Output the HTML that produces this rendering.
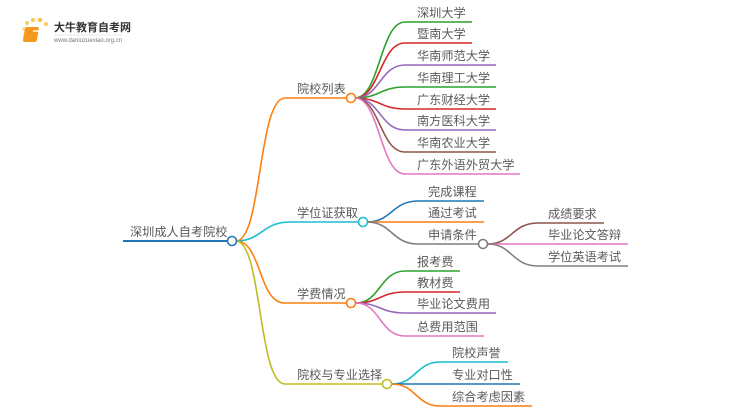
<!DOCTYPE html>
<html><head><meta charset="utf-8"><style>
html,body{margin:0;padding:0;background:#fff;width:750px;height:410px;overflow:hidden}
svg text{font-family:"Liberation Sans","Noto Sans CJK SC",sans-serif;fill:#5a5a5a;font-size:12.2px}
</style></head><body>
<svg width="750" height="410" viewBox="0 0 750 410" xmlns="http://www.w3.org/2000/svg">
<g>
<circle cx="25" cy="36" r="1.6" fill="#fbd38a"/><circle cx="24" cy="29" r="1.8" fill="#fbd38a"/>
<circle cx="27" cy="23" r="2" fill="#fcc860"/><circle cx="33" cy="20" r="2.2" fill="#fcc860"/>
<circle cx="40" cy="20" r="2.2" fill="#fbbf45"/><circle cx="46" cy="24" r="2" fill="#fcc860"/>
<rect x="30" y="27" width="14" height="15" rx="2" fill="#f39a1e" transform="skewX(-10)"/>
<rect x="33" y="30" width="9" height="2" fill="#fff" opacity=".7"/>
<text x="54" y="31" style="font-size:11px;fill:#333;font-weight:bold">大牛教育自考网</text>
<text x="54" y="42" style="font-size:6px;fill:#777">www.daniuzuexiao.org.cn</text>
<line x1="54" y1="35" x2="122" y2="35" stroke="#ccc" stroke-width=".6"/>
</g>
<g fill="none" stroke-width="1.6">
<path d="M123 241 L228 241" stroke="#1f77b4" stroke-width="2"/>
<path d="M236 241 C262 241 258 98 285 98 L346 98" stroke="#ff7f0e"/>
<path d="M236 241 C262 241 262 222 290 222 L358 222" stroke="#17becf"/>
<path d="M236 241 C262 241 258 303 285 303 L347 303" stroke="#ff7f0e"/>
<path d="M236 241 C262 241 258 384 285 384 L383 384" stroke="#bcbd22"/>
<path d="M355 98 C380 98 380 22 405 22 L472 22" stroke="#2ca02c"/>
<path d="M355 98 C380 98 380 43 405 43 L472 43" stroke="#d62728"/>
<path d="M355 98 C380 98 380 65 405 65 L496 65" stroke="#9467bd"/>
<path d="M355 98 C380 98 380 87 405 87 L496 87" stroke="#2ca02c"/>
<path d="M355 98 C380 98 380 109 405 109 L496 109" stroke="#d62728"/>
<path d="M355 98 C380 98 380 130 405 130 L496 130" stroke="#9467bd"/>
<path d="M355 98 C380 98 380 152 405 152 L496 152" stroke="#8c564b"/>
<path d="M355 98 C380 98 380 174 405 174 L520 174" stroke="#e377c2"/>
<path d="M367 222 C392 222 392 201 418 201 L484 201" stroke="#1f77b4"/>
<path d="M367 222 L484 222" stroke="#ff7f0e"/>
<path d="M367 222 C392 222 392 244 418 244 L479 244" stroke="#7f7f7f"/>
<path d="M488 244 C512 244 512 223 538 223 L604 223" stroke="#8c564b"/>
<path d="M488 244 L628 244" stroke="#e377c2"/>
<path d="M488 244 C512 244 512 266 538 266 L628 266" stroke="#7f7f7f"/>
<path d="M356 303 C380 303 380 271 405 271 L460 271" stroke="#2ca02c"/>
<path d="M356 303 C380 303 380 292 405 292 L460 292" stroke="#d62728"/>
<path d="M356 303 C380 303 380 313 405 313 L496 313" stroke="#9467bd"/>
<path d="M356 303 C380 303 380 336 405 336 L484 336" stroke="#e377c2"/>
<path d="M392 384 C416 384 416 362 440 362 L508 362" stroke="#17becf"/>
<path d="M392 384 L520 384" stroke="#1f77b4"/>
<path d="M392 384 C416 384 416 406 440 406 L532 406" stroke="#ff7f0e"/>
</g>
<g fill="#fff" stroke-width="1.6">
<circle cx="232" cy="241" r="4.5" stroke="#1f77b4"/>
<circle cx="351" cy="98" r="4.5" stroke="#ff7f0e"/>
<circle cx="363" cy="222" r="4.5" stroke="#17becf"/>
<circle cx="351" cy="303" r="4.5" stroke="#ff7f0e"/>
<circle cx="387" cy="384" r="4.5" stroke="#bcbd22"/>
<circle cx="483" cy="244" r="4.5" stroke="#7f7f7f"/>
</g>
<text x="130" y="236">深圳成人自考院校</text>
<text x="297" y="93">院校列表</text>
<text x="297" y="217">学位证获取</text>
<text x="297" y="298">学费情况</text>
<text x="297" y="379">院校与专业选择</text>
<text x="417" y="17">深圳大学</text>
<text x="417" y="38">暨南大学</text>
<text x="417" y="60">华南师范大学</text>
<text x="417" y="82">华南理工大学</text>
<text x="417" y="104">广东财经大学</text>
<text x="417" y="125">南方医科大学</text>
<text x="417" y="147">华南农业大学</text>
<text x="417" y="169">广东外语外贸大学</text>
<text x="428" y="196">完成课程</text>
<text x="428" y="217">通过考试</text>
<text x="428" y="239">申请条件</text>
<text x="548" y="218">成绩要求</text>
<text x="548" y="239">毕业论文答辩</text>
<text x="548" y="261">学位英语考试</text>
<text x="417" y="266">报考费</text>
<text x="417" y="287">教材费</text>
<text x="417" y="308">毕业论文费用</text>
<text x="417" y="331">总费用范围</text>
<text x="452" y="357">院校声誉</text>
<text x="452" y="379">专业对口性</text>
<text x="452" y="401">综合考虑因素</text>
</svg>
</body></html>
